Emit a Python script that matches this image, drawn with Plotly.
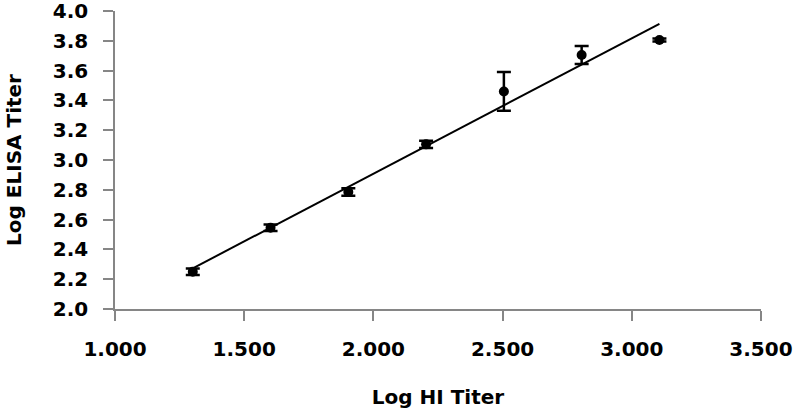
import numpy as np
import plotly.graph_objects as go

log_hi = [1.301, 1.602, 1.903, 2.204, 2.505, 2.806, 3.107]
log_elisa = [2.25, 2.545, 2.785, 3.105, 3.46, 3.705, 3.805]
err = [0.022, 0.022, 0.025, 0.025, 0.13, 0.06, 0.01]

x_ticks = [1.0, 1.5, 2.0, 2.5, 3.0, 3.5]
y_ticks = [2.0, 2.2, 2.4, 2.6, 2.8, 3.0, 3.2, 3.4, 3.6, 3.8, 4.0]

slope, intercept = np.polyfit(log_hi, log_elisa, 1)
fit_x = [min(log_hi), max(log_hi)]
fit_y = [slope * v + intercept for v in fit_x]

font_family = "DejaVu Sans"

fig = go.Figure()
fig.add_trace(go.Scatter(
    x=fit_x, y=fit_y, mode="lines",
    line=dict(color="black", width=2), showlegend=False, hoverinfo="skip"))
fig.add_trace(go.Scatter(
    x=log_hi, y=log_elisa, mode="markers",
    marker=dict(color="black", size=10, symbol="circle"),
    error_y=dict(type="data", array=err, visible=True, color="black",
                 thickness=2.5, width=7),
    showlegend=False))

axis_common = dict(
    showline=True, linecolor="#868686", linewidth=1.5,
    ticks="outside", tickcolor="#868686", ticklen=10, tickwidth=1.5,
    showgrid=False, zeroline=False, automargin=False,
    ticklabeloverflow="allow",
    tickfont=dict(family=font_family, size=20, color="black", weight="bold"),
)

fig.update_xaxes(
    range=[1.0, 3.5001], tickvals=x_ticks, tickformat=".3f",
    ticklabelstandoff=11,
    title=dict(text="Log HI Titer",
               font=dict(family=font_family, size=20, color="black", weight="bold"),
               standoff=30),
    **axis_common)
fig.update_yaxes(
    range=[2.0, 4.0001], tickvals=y_ticks, tickformat=".1f",
    ticklabelstandoff=11,
    title=dict(text="Log ELISA Titer",
               font=dict(family=font_family, size=20, color="black", weight="bold"),
               standoff=26),
    **axis_common)

fig.update_layout(
    width=800, height=413,
    margin=dict(l=115, r=39, t=11, b=104),
    plot_bgcolor="white", paper_bgcolor="white",
)

fig.write_html("out.html", config={"displayModeBar": False},
               post_script="document.body.style.margin='0';")
